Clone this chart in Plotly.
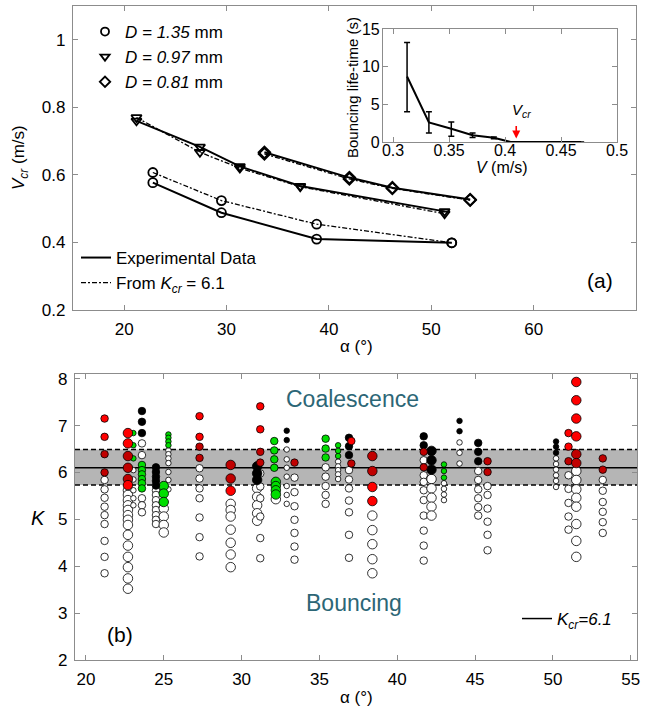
import plotly.graph_objects as go

# ---------------- Panel (a) data ----------------
circle_alpha = [22.8, 29.5, 38.8, 52.0]
circle_exp = [0.577, 0.488, 0.410, 0.399]
circle_model = [0.607, 0.524, 0.454, 0.399]

tri_alpha = [21.2, 27.4, 31.3, 37.2, 51.3]
tri_exp = [0.760, 0.683, 0.625, 0.567, 0.492]
tri_model = [0.770, 0.667, 0.620, 0.565, 0.485]

dia_alpha = [33.7, 42.0, 46.2, 53.8]
dia_exp = [0.667, 0.592, 0.562, 0.527]
dia_model = [0.662, 0.588, 0.560, 0.525]

# inset
inset_V = [0.3125, 0.332, 0.352, 0.371, 0.390, 0.405, 0.43, 0.45, 0.468]
inset_T = [8.7, 2.6, 1.75, 0.9, 0.55, 0.0, 0.0, 0.0, 0.0]
inset_err_up = [4.5, 1.4, 0.9, 0.3, 0.12, 0.0, 0.0, 0.0, 0.0]
inset_err_dn = [4.7, 1.4, 1.0, 0.3, 0.12, 0.0, 0.0, 0.0, 0.0]
V_cr = 0.41

# ---------------- Panel (b) data ----------------
K_cr = 6.1
K_band = [5.73, 6.49]

col_alpha = [21.2, 22.7, 23.05, 23.6, 24.5, 25.0, 25.3, 27.3, 29.3, 31.0,
             31.2, 32.1, 32.2, 32.9, 33.4, 35.4, 36.2, 36.9, 37.05, 38.4,
             41.7, 42.2, 43.0, 44.0, 45.2, 45.8, 50.2, 51.0, 51.5, 53.2]

col_red = [[7.15, 6.76], [6.84, 6.62, 5.73], [], [], [], [], [], [7.20, 6.76], [5.61], [],
           [7.41, 6.92], [], [], [], [], [], [], [], [6.67], [5.69, 5.39],
           [], [], [], [], [], [], [], [6.84, 6.55], [7.93, 7.54, 7.15, 6.77], []]

col_darkred = [[6.39, 6.00], [6.35, 6.10, 5.86], [], [], [], [], [], [6.55, 6.31], [6.16, 5.87], [],
               [6.44, 6.21], [], [], [], [6.21], [], [], [], [6.19], [6.35, 6.03],
               [6.44, 6.11], [], [], [], [], [6.24, 6.01], [], [6.24], [6.39, 6.20], [6.30, 6.06]]

col_green = [[], [], [6.84, 6.58, 6.30], [6.16, 6.05, 5.96, 5.86, 5.77, 5.66], [], [5.71, 5.55, 5.37],
             [6.81, 6.74, 6.66, 6.58], [], [], [],
             [], [6.67, 6.47, 6.28, 6.10], [5.80, 5.71, 5.62, 5.53], [], [], [6.72, 6.51, 6.32],
             [6.58, 6.46, 6.35], [], [], [],
             [], [], [6.17, 6.03, 5.89], [], [], [], [], [], [], []]

col_black = [[], [], [], [7.31, 7.08, 6.84], [6.11, 6.01, 5.91, 5.82, 5.72], [], [], [], [], [6.13, 5.98, 5.84],
             [], [], [], [6.89, 6.69], [], [], [], [6.74, 6.56, 6.37], [], [],
             [6.77, 6.58], [6.46, 6.26, 6.06], [], [7.10, 6.88], [6.63, 6.44, 6.24], [], [6.66, 6.55, 6.42], [], [], []]

col_open = [[5.84, 5.64, 5.46, 5.27, 5.09, 4.90, 4.54, 4.20, 3.85],
            [5.62, 5.52, 5.41, 5.30, 5.20, 5.09, 4.99, 4.88, 4.67, 4.44, 4.20, 3.98, 3.74, 3.52],
            [6.05, 5.85, 5.62, 5.45, 5.30],
            [6.62, 6.37, 5.45, 5.30, 5.15],
            [5.62, 5.52, 5.41, 5.30, 5.20, 5.09, 4.99, 4.90],
            [5.23, 5.06, 4.88, 4.72],
            [6.47, 6.39, 6.30, 6.20, 6.01, 5.84, 5.64],
            [6.09, 5.87, 5.66, 5.45, 5.04, 4.62, 4.21],
            [5.33, 5.20, 5.06, 4.78, 4.50, 4.25, 3.98],
            [5.66, 5.48, 5.30, 5.13, 4.97],
            [5.98, 5.70, 5.45, 5.06, 4.60, 4.17],
            [],
            [5.43],
            [6.49, 6.28, 6.10, 5.91, 5.71, 5.52, 5.33],
            [5.89, 5.58, 5.28, 4.99, 4.71, 4.42, 4.14],
            [6.11, 5.91, 5.71, 5.52, 5.33],
            [6.23, 6.13, 6.05, 5.96, 5.86],
            [6.05, 5.85, 5.66, 5.40, 5.15, 4.67, 4.18],
            [],
            [5.08, 4.77, 4.47, 4.15, 3.85],
            [6.26, 5.94, 5.80, 5.62, 5.41, 5.08, 4.76, 4.44, 4.12],
            [5.86, 5.66, 5.46, 5.27, 5.08],
            [5.77, 5.65, 5.53, 5.41],
            [6.64, 6.42, 6.19],
            [6.03, 5.84, 5.64, 5.45, 5.26, 5.08],
            [5.71, 5.52, 5.23, 4.95, 4.67, 4.34],
            [6.30, 6.18, 6.06, 5.94, 5.82, 5.69],
            [5.94, 5.65, 5.35, 5.06, 4.78],
            [6.03, 5.84, 5.64, 5.46, 5.27, 4.90, 4.54, 4.20],
            [5.84, 5.61, 5.37, 5.16, 4.94, 4.71]]

# ---------------- styles ----------------
col_sizeclass = ['M', 'L', 'S', 'M', 'M', 'L', 'S', 'M', 'L', 'L',
                 'M', 'M', 'L', 'S', 'M', 'M', 'S', 'M', 'M', 'L',
                 'M', 'L', 'S', 'S', 'M', 'M', 'S', 'M', 'L', 'M']
SIZE = {'S': 5.5, 'M': 7.5, 'L': 9.5}
FONT = "Arial, Liberation Sans, sans-serif"
AXC = "#8c8c8c"
TEAL = "#2c6676"

W, H = 645, 709


def px_x(p):
    return p / W


def px_y(p):
    return 1 - p / H


fig = go.Figure()

# ---------------- Panel (a) traces ----------------
series = [(circle_alpha, circle_exp, circle_model, "circle-open"),
          (tri_alpha, tri_exp, tri_model, "triangle-down-open"),
          (dia_alpha, dia_exp, dia_model, "diamond-open")]
for a, e, m, sym in series:
    fig.add_trace(go.Scatter(x=a, y=m, mode="lines+markers", xaxis="x", yaxis="y",
                             line=dict(color="black", width=1.3, dash="5px,2px,2px,2px"),
                             marker=dict(symbol=sym, size=9, color="black", line=dict(width=1.8)),
                             showlegend=False, hoverinfo="skip"))
    fig.add_trace(go.Scatter(x=a, y=e, mode="lines+markers", xaxis="x", yaxis="y",
                             line=dict(color="black", width=2),
                             marker=dict(symbol=sym, size=9, color="black", line=dict(width=1.8)),
                             showlegend=False, hoverinfo="skip"))

# legend 1 (diameters)
for lbl, sym in [("<i>D = 1.35</i> mm", "circle-open"),
                 ("<i>D = 0.97</i> mm", "triangle-down-open"),
                 ("<i>D = 0.81</i> mm", "diamond-open")]:
    fig.add_trace(go.Scatter(x=[None], y=[None], mode="markers", xaxis="x", yaxis="y",
                             marker=dict(symbol=sym, size=8, color="black", line=dict(width=1.8)),
                             name=lbl, legend="legend"))
# legend 2 (line styles)
fig.add_trace(go.Scatter(x=[None], y=[None], mode="lines", xaxis="x", yaxis="y",
                         line=dict(color="black", width=2), name="Experimental Data", legend="legend2"))
fig.add_trace(go.Scatter(x=[None], y=[None], mode="lines", xaxis="x", yaxis="y",
                         line=dict(color="black", width=1.3, dash="5px,2px,2px,2px"),
                         name="From <i>K</i><sub><i>cr</i></sub> = 6.1", legend="legend2"))

# inset
fig.add_trace(go.Scatter(x=inset_V, y=inset_T, mode="lines", xaxis="x3", yaxis="y3",
                         line=dict(color="black", width=2),
                         error_y=dict(type="data", symmetric=False, array=inset_err_up,
                                      arrayminus=inset_err_dn, color="black", thickness=1.5, width=3),
                         showlegend=False, hoverinfo="skip"))

# ---------------- Panel (b) traces ----------------
fig.add_trace(go.Scatter(x=[19.3, 55.4], y=[K_cr, K_cr], mode="lines", xaxis="x2", yaxis="y2",
                         line=dict(color="black", width=1.5),
                         name="<i>K</i><sub><i>cr</i></sub><i>=6.1</i>", legend="legend3",
                         hoverinfo="skip"))

categories = [(col_open, "white"), (col_green, "#00dd00"), (col_black, "black"),
              (col_darkred, "#c00000"), (col_red, "#ff0000")]
for data, colr in categories:
    xs, ys, ss = [], [], []
    for i, vals in enumerate(data):
        for v in vals:
            xs.append(col_alpha[i])
            ys.append(v)
            ss.append(SIZE[col_sizeclass[i]])
    fig.add_trace(go.Scatter(x=xs, y=ys, mode="markers", xaxis="x2", yaxis="y2",
                             marker=dict(size=ss, color=colr, opacity=1,
                                         line=dict(color="black", width=0.8)),
                             showlegend=False, hoverinfo="skip"))

# ---------------- layout ----------------
axis_common = dict(showline=True, linecolor=AXC, linewidth=1.2, mirror="allticks",
                   ticks="inside", ticklen=5, tickcolor=AXC, showgrid=False, zeroline=False,
                   tickfont=dict(family=FONT, size=17, color="black"), automargin=False,
                   ticklabelstandoff=3)
inset_font = dict(family=FONT, size=16, color="black")

fig.update_layout(
    width=W, height=H, margin=dict(l=0, r=0, t=0, b=0),
    paper_bgcolor="white", plot_bgcolor="white",
    font=dict(family=FONT, color="black"),
    xaxis=dict(domain=[px_x(73), px_x(636)], range=[15, 70], tickvals=[20, 30, 40, 50, 60, 70],
               anchor="y", **axis_common),
    yaxis=dict(domain=[px_y(310), px_y(6)], range=[0.2, 1.1], tickvals=[0.2, 0.4, 0.6, 0.8, 1.0],
               ticktext=["0.2", "0.4", "0.6", "0.8", "1"], anchor="x", **axis_common),
    xaxis2=dict(domain=[px_x(75), px_x(637)], range=[19.3, 55.4],
                tickvals=[20, 25, 30, 35, 40, 45, 50, 55], anchor="y2", **axis_common),
    yaxis2=dict(domain=[px_y(660), px_y(374)], range=[2, 8.1], tickvals=[2, 3, 4, 5, 6, 7, 8],
                anchor="x2", **axis_common),
    xaxis3=dict(domain=[px_x(383), px_x(617)], range=[0.291, 0.5],
                tickvals=[0.3, 0.35, 0.4, 0.45, 0.5], ticktext=["0.3", "0.35", "0.4", "0.45", "0.5"],
                anchor="y3", **{**axis_common, "tickfont": inset_font, "ticklabelstandoff": -6}),
    yaxis3=dict(domain=[px_y(142), px_y(29)], range=[0, 15], tickvals=[0, 5, 10, 15],
                anchor="x3", **{**axis_common, "tickfont": inset_font, "ticklabelstandoff": -1}),
    legend=dict(x=px_x(85), y=px_y(14), xanchor="left", yanchor="top", bgcolor="rgba(0,0,0,0)",
                font=dict(family=FONT, size=17), tracegroupgap=0, itemwidth=30),
    legend2=dict(x=px_x(76), y=px_y(240), xanchor="left", yanchor="top", bgcolor="rgba(0,0,0,0)",
                 font=dict(family=FONT, size=17), tracegroupgap=0, itemwidth=30),
    legend3=dict(x=px_x(517), y=px_y(601), xanchor="left", yanchor="top", bgcolor="rgba(0,0,0,0)",
                 font=dict(family=FONT, size=17), itemwidth=30),
)

# band + dashed edges in panel (b)
fig.add_shape(type="rect", xref="x2", yref="y2", x0=19.3, x1=55.4, y0=K_band[0], y1=K_band[1],
              fillcolor="#b5b5b5", line=dict(width=0), layer="below")
for kb in K_band:
    fig.add_shape(type="line", xref="x2", yref="y2", x0=19.3, x1=55.4, y0=kb, y1=kb,
                  line=dict(color="black", width=1.5, dash="5px,3px"), layer="below")

ann = []


def text(x, y, t, size, color="black", **kw):
    ann.append(dict(x=px_x(x), y=px_y(y), xref="paper", yref="paper", text=t, showarrow=False,
                    font=dict(family=FONT, size=size, color=color), xanchor="center",
                    yanchor="middle", **kw))


text(356, 346, "α (°)", 17)
text(356, 697, "α (°)", 17)
text(20, 158, "<i>V</i><sub><i>cr</i></sub> (m/s)", 17, textangle=-90)
text(38, 518, "<i>K</i>", 20)
text(600, 280, "(a)", 21)
text(120, 634, "(b)", 21)
text(352, 399, "Coalescence", 23, TEAL)
text(354, 603, "Bouncing", 23, TEAL)
text(352, 88, "Bouncing life-time (s)", 15, textangle=-90)
text(502, 168, "<i>V</i> (m/s)", 16)
ann.append(dict(x=V_cr + 0.0045, y=4.2, xref="x3", yref="y3", text="<i>V</i><sub><i>cr</i></sub>",
                showarrow=False, font=dict(family=FONT, size=15, color="black")))
ann.append(dict(x=V_cr, y=0.45, xref="x3", yref="y3", text="", showarrow=True,
                arrowhead=2, arrowsize=1, arrowwidth=1.6, arrowcolor="red", ax=0, ay=-14))
fig.update_layout(annotations=ann)

fig.write_html("out.html", config={"displayModeBar": False},
               post_script="document.body.style.margin='0px';document.body.style.padding='0px';")
